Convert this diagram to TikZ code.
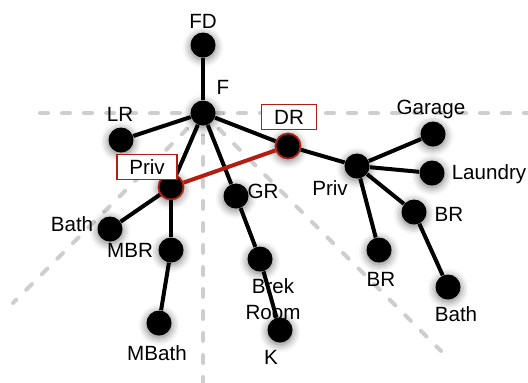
\documentclass[tikz,border=0pt]{standalone}
\usepackage{fontspec}
\setmainfont{Liberation Sans}
\usepackage{tikz}
\usetikzlibrary{shadows.blur}
\usepackage{xcolor}
\definecolor{darkred}{RGB}{178,30,18}
\definecolor{guide}{RGB}{206,206,206}

\begin{document}
\begin{tikzpicture}[x=0.5pt, y=-0.5pt, font=\fontsize{10.3}{12}\selectfont]

    % Define the styles for rooms, tags and lines
    \tikzset{room/.style={circle, fill=black, minimum size=12.5pt, inner sep=0pt,
        blur shadow={shadow xshift=0pt, shadow yshift=-1pt, shadow blur radius=4pt, shadow opacity=55}}}
    \tikzset{privroom/.style={room, draw=darkred, line width=0.9pt}}
    \tikzset{tag/.style={draw=darkred, fill=white, line width=0.9pt, inner xsep=6.3pt, inner ysep=0pt, minimum height=12.5pt}}
    \tikzset{roomname/.style={inner sep=0pt, align=center}}
    \tikzset{link/.style={line width=2pt}}
    \tikzset{axis/.style={guide, line width=2pt, line cap=round, dash pattern=on 4pt off 7pt}}

    \useasboundingbox (0,0) rectangle (528,382);

    % Guide lines
    \coordinate (hub) at (203,113);
    \coordinate (west) at (40,113);
    \coordinate (east) at (528,113);
    \coordinate (south) at (203,382);
    \coordinate (southwest) at (13,303);
    \coordinate (southeast) at (441,351);
    \draw[axis] (west) -- (east);
    \draw[axis] (hub) -- (south);
    \draw[axis] (hub) -- (southwest);
    \draw[axis] (hub) -- (southeast);

    % Rooms
    \node[room] (fd) at (203,45) {};
    \node[room] (f) at (203,113) {};
    \node[room] (lr) at (121,140) {};
    \node[privroom] (dr) at (288,146) {};
    \node[privroom] (priv) at (171,187) {};
    \node[room] (gr) at (236,196) {};
    \node[room] (brek) at (260,259) {};
    \node[room] (k) at (280,330) {};
    \node[room] (bath) at (110,229) {};
    \node[room] (mbr) at (171,250) {};
    \node[room] (mbath) at (159,323) {};
    \node[room] (priv2) at (357,166) {};
    \node[room] (garage) at (433,134) {};
    \node[room] (laundry) at (432,173) {};
    \node[room] (br) at (414,212) {};
    \node[room] (br2) at (379,250) {};
    \node[room] (bath2) at (448,287) {};

    % Links
    \path[link]
    (fd) edge (f)
    (f) edge (lr)
        edge (dr)
        edge (priv)
        edge (gr)
    (gr) edge (brek)
    (brek) edge (k)
    (priv) edge (bath)
           edge (mbr)
    (mbr) edge (mbath)
    (dr) edge (priv2)
    (priv2) edge (garage)
            edge (laundry)
            edge (br)
            edge (br2)
    (br) edge (bath2);
    \draw[link, darkred] (dr) -- (priv);

    % Names
    \node[roomname] (fdname) at (203,21) {FD};
    \node[roomname] (fname) at (223,87) {F};
    \node[roomname] (lrname) at (120,114) {LR};
    \node[tag] (drtag) at (289,117) {DR};
    \node[tag] (privtag) at (147,167) {Priv};
    \node[roomname] (grname) at (263,191) {GR};
    \node[roomname] (brekname) at (273,299) {Brek\\[1pt]Room};
    \node[roomname] (kname) at (271,357) {K};
    \node[roomname] (bathname) at (72,224) {Bath};
    \node[roomname] (mbrname) at (130,250) {MBR};
    \node[roomname] (mbathname) at (157,353) {MBath};
    \node[roomname] (priv2name) at (330,188) {Priv};
    \node[roomname] (garagename) at (431,109) {Garage};
    \node[roomname] (laundryname) at (489,174) {Laundry};
    \node[roomname] (brname) at (449,214) {BR};
    \node[roomname] (br2name) at (381,279) {BR};
    \node[roomname] (bath2name) at (456,314) {Bath};
\end{tikzpicture}
\end{document}
